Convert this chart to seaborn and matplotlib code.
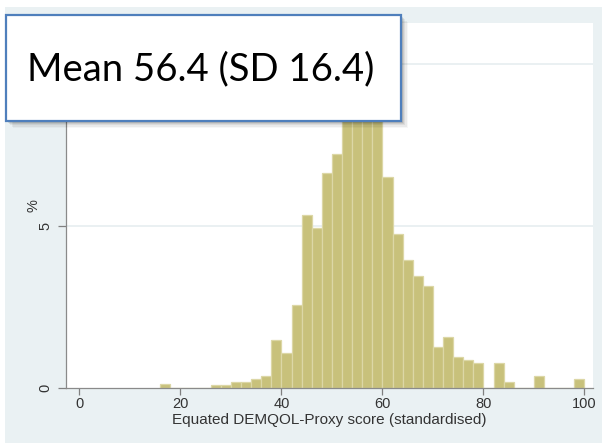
import numpy as np
import pandas as pd
import matplotlib
matplotlib.use("Agg")
import matplotlib.pyplot as plt
from matplotlib.patches import Rectangle
import seaborn as sns

# ---- data (percent of observations per 2-point bin, left edge given) ----
bin_left = [16, 26, 28, 30, 32, 34, 36, 38, 40, 42, 44, 46, 48, 50, 52, 54, 56, 58,
            60, 62, 64, 66, 68, 70, 72, 74, 76, 78, 82, 84, 90, 98]
percent = [0.11, 0.10, 0.10, 0.17, 0.17, 0.28, 0.37, 1.48, 1.07, 2.56, 5.34, 4.95, 6.63, 7.22,
           9.4, 10.6, 11.2, 9.4,
           6.52, 4.74, 3.94, 3.46, 3.15, 1.27, 1.58, 0.97, 0.86, 0.78, 0.78, 0.18, 0.37, 0.28]
bin_width = 2
x_ticks = [0, 20, 40, 60, 80, 100]
y_ticks = [0, 5, 10]
y_tick_labels = ["0", "5", ""]   # the "10" label sits under the annotation box
x_label = "Equated DEMQOL-Proxy score (standardised)"
y_label = "%"
note = "Mean 56.4 (SD 16.4)"

df = pd.DataFrame({"score": np.array(bin_left) + bin_width / 2, "pct": percent})

sns.set_theme(style="white")
plt.rcParams["font.family"] = ["Liberation Sans", "DejaVu Sans"]

W, H = 602, 443
fig = plt.figure(figsize=(W / 100, H / 100), dpi=100)
fig.patch.set_facecolor("white")

# outer Stata-like graph region
fig.patches.append(Rectangle((5 / W, 0), 1 - 5 / W, 1 - 7 / H, transform=fig.transFigure,
                             facecolor="#eaf1f3", edgecolor="none", zorder=-10))

ax = fig.add_axes([66 / W, 1 - 388 / H, (593 - 66) / W, (388 - 23) / H])
ax.set_zorder(1)
ax.set_facecolor("white")

for yv in y_ticks[1:]:
    ax.axhline(yv, color="#e6eef0", lw=1.2, zorder=0)

sns.histplot(data=df, x="score", weights="pct", binwidth=bin_width, binrange=(16, 100),
             ax=ax, color="#c8c17b", edgecolor="#dcd7a6", linewidth=0.9, alpha=1, zorder=2)

ax.set_xlim(-2.67, 101.7)
ax.set_ylim(0, 11.27)
ax.set_xticks(x_ticks)
ax.set_yticks(y_ticks)
ax.set_yticklabels(y_tick_labels, rotation=90, va="center")

tc = "#333333"
ax.tick_params(axis="x", length=5, width=0.9, color="#808080", labelsize=10.5, labelcolor=tc, pad=1.5, direction="out", bottom=True)
ax.tick_params(axis="y", length=5.5, width=0.9, color="#808080", labelsize=10.5, labelcolor=tc, pad=4, direction="out", left=True)

ax.set_xlabel(x_label, fontsize=11, color=tc, labelpad=1.5)
ax.set_ylabel(y_label, fontsize=10.5, color=tc, labelpad=-1)

for s in ["top", "right"]:
    ax.spines[s].set_visible(False)
for s in ["left", "bottom"]:
    ax.spines[s].set_color("#8a8a8a")
    ax.spines[s].set_linewidth(0.9)

# annotation box with shadow
bx0, by0, bx1, by1 = 6, 15, 401, 121
for i, a in enumerate([0.10, 0.08, 0.06, 0.05, 0.03]):
    off = 2 + i * 1.2
    fig.patches.append(Rectangle(((bx0 + off) / W, 1 - (by1 + off) / H), (bx1 - bx0) / W, (by1 - by0) / H,
                                 transform=fig.transFigure, facecolor="black", alpha=a,
                                 edgecolor="none", zorder=5))
fig.patches.append(Rectangle((bx0 / W, 1 - by1 / H), (bx1 - bx0) / W, (by1 - by0) / H,
                             transform=fig.transFigure, facecolor="white", edgecolor="#4f7fbc",
                             linewidth=1.6, zorder=6))
fig.text(27 / W, 1 - 69 / H, note, fontsize=27.5, family=["Lato", "DejaVu Sans"],
         color="black", va="center", ha="left", zorder=7)

fig.savefig("out.png", dpi=100)
